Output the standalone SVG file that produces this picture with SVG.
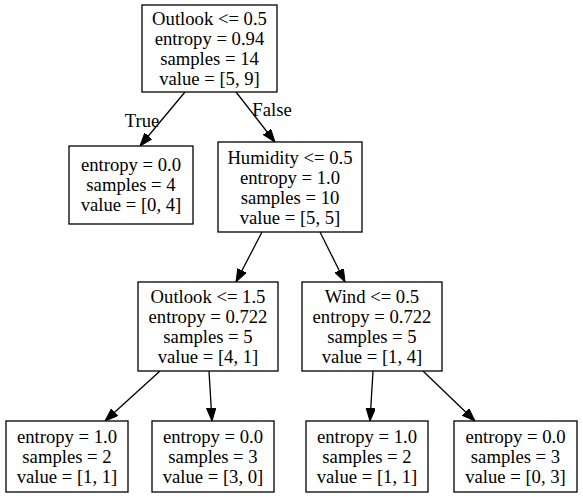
<svg xmlns="http://www.w3.org/2000/svg" width="583" height="497" viewBox="0 0 583 497">
<style>
.box{fill:#fff;stroke:#000;stroke-width:1.3}
.t{font-family:"Liberation Serif","Times New Roman",serif;font-size:18.67px;text-anchor:middle;fill:#000}
.e{stroke:#000;stroke-width:1.3;fill:none}
</style>
<defs>
<marker id="ah" markerUnits="userSpaceOnUse" markerWidth="14" markerHeight="10" refX="13" refY="4.7" orient="auto">
<path d="M0,0 L13,4.7 L0,9.4 z" fill="#000" stroke="#000" stroke-width="1"/>
</marker>
</defs>
<rect width="583" height="497" fill="#fff"/>
<g id="edges">
<line class="e" x1="185" y1="92" x2="140" y2="146" marker-end="url(#ah)"/>
<line class="e" x1="236" y1="92" x2="275" y2="142" marker-end="url(#ah)"/>
<line class="e" x1="262" y1="232" x2="236" y2="282" marker-end="url(#ah)"/>
<line class="e" x1="320" y1="232" x2="345" y2="282" marker-end="url(#ah)"/>
<line class="e" x1="160" y1="371" x2="105" y2="421" marker-end="url(#ah)"/>
<line class="e" x1="209" y1="371" x2="212" y2="421" marker-end="url(#ah)"/>
<line class="e" x1="373" y1="371" x2="370" y2="421" marker-end="url(#ah)"/>
<line class="e" x1="423" y1="371" x2="475" y2="421" marker-end="url(#ah)"/>
<text class="t" x="142" y="127">True</text>
<text class="t" x="272" y="116">False</text>
</g>
<g id="n0">
<rect class="box" x="142" y="5" width="135" height="87"/>
<text class="t" x="209.5" y="25">Outlook &lt;= 0.5</text>
<text class="t" x="209.5" y="45">entropy = 0.94</text>
<text class="t" x="209.5" y="65">samples = 14</text>
<text class="t" x="209.5" y="85">value = [5, 9]</text>
</g>
<g id="n1">
<rect class="box" x="69" y="146" width="124" height="78"/>
<text class="t" x="131" y="171">entropy = 0.0</text>
<text class="t" x="131" y="191">samples = 4</text>
<text class="t" x="131" y="211">value = [0, 4]</text>
</g>
<g id="n2">
<rect class="box" x="218" y="142" width="144" height="90"/>
<text class="t" x="290" y="163.5">Humidity &lt;= 0.5</text>
<text class="t" x="290" y="183.5">entropy = 1.0</text>
<text class="t" x="290" y="203.5">samples = 10</text>
<text class="t" x="290" y="223.5">value = [5, 5]</text>
</g>
<g id="n3">
<rect class="box" x="138" y="282" width="140" height="89"/>
<text class="t" x="208" y="303">Outlook &lt;= 1.5</text>
<text class="t" x="208" y="323">entropy = 0.722</text>
<text class="t" x="208" y="343">samples = 5</text>
<text class="t" x="208" y="363">value = [4, 1]</text>
</g>
<g id="n4">
<rect class="box" x="302" y="282" width="140" height="89"/>
<text class="t" x="372" y="303">Wind &lt;= 0.5</text>
<text class="t" x="372" y="323">entropy = 0.722</text>
<text class="t" x="372" y="343">samples = 5</text>
<text class="t" x="372" y="363">value = [1, 4]</text>
</g>
<g id="n5">
<rect class="box" x="6" y="421" width="122" height="71"/>
<text class="t" x="67" y="443">entropy = 1.0</text>
<text class="t" x="67" y="463">samples = 2</text>
<text class="t" x="67" y="483">value = [1, 1]</text>
</g>
<g id="n6">
<rect class="box" x="152" y="421" width="122" height="71"/>
<text class="t" x="213" y="443">entropy = 0.0</text>
<text class="t" x="213" y="463">samples = 3</text>
<text class="t" x="213" y="483">value = [3, 0]</text>
</g>
<g id="n7">
<rect class="box" x="306" y="421" width="122" height="71"/>
<text class="t" x="367" y="443">entropy = 1.0</text>
<text class="t" x="367" y="463">samples = 2</text>
<text class="t" x="367" y="483">value = [1, 1]</text>
</g>
<g id="n8">
<rect class="box" x="454" y="421" width="123" height="71"/>
<text class="t" x="515.5" y="443">entropy = 0.0</text>
<text class="t" x="515.5" y="463">samples = 3</text>
<text class="t" x="515.5" y="483">value = [0, 3]</text>
</g>
</svg>
